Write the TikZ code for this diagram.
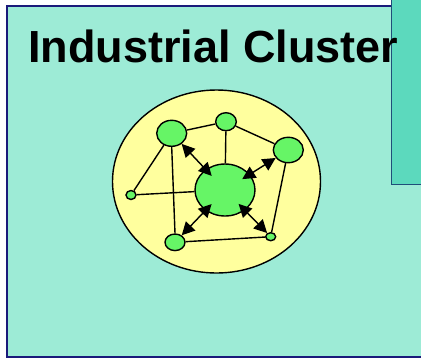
\documentclass[tikz,border=0pt]{standalone}
\usepackage{fontspec}
\setmainfont{Liberation Sans}
\usetikzlibrary{shapes.geometric,arrows.meta}
\definecolor{clusterbg}{HTML}{9DEBD6}
\definecolor{sidebox}{HTML}{5CD9BD}
\definecolor{sideline}{HTML}{1F4E79}
\definecolor{navyline}{HTML}{1A1A7A}
\definecolor{regionfill}{HTML}{FFFF9E}
\definecolor{firmgreen}{HTML}{66F566}

\begin{document}
\begin{tikzpicture}[x=1pt,y=-1pt,
  firm/.style={ellipse,draw=black,fill=firmgreen,line width=1.4pt,inner sep=0pt},
  link/.style={line width=1.4pt},
  flow/.style={line width=1.4pt,shorten <=-9pt,{Triangle[length=13pt,width=13pt]}-{Triangle[length=13pt,width=13pt]}}]
\useasboundingbox (0,0) rectangle (421,360);
\fill[white] (0,0) rectangle (421,360);
\filldraw[fill=clusterbg,draw=navyline,line width=1.8pt] (7,6) rectangle (440,357);
\filldraw[fill=sidebox,draw=sideline,line width=1pt] (391,-5) rectangle (440,184);

% the cluster region
\node[ellipse,draw=black,fill=regionfill,line width=1.4pt,minimum width=208pt,minimum height=183pt] (region) at (216.5,181.5) {};

% firms
\node[firm,minimum width=30pt,minimum height=26pt] (a) at (171.7,133.3) {};
\node[firm,minimum width=20.6pt,minimum height=18pt] (b) at (226,121.7) {};
\node[firm,minimum width=30pt,minimum height=25.4pt] (c) at (288.3,150) {};
\node[firm,minimum width=10pt,minimum height=9pt] (d) at (131,195) {};
\node[firm,minimum width=60pt,minimum height=52pt] (e) at (225,190) {};
\node[firm,minimum width=20pt,minimum height=16.6pt] (f) at (175,242.3) {};
\node[firm,minimum width=10pt,minimum height=8pt] (g) at (270.7,236.7) {};

% plain links
\draw[link] (a) -- (b);
\draw[link] (b) -- (c);
\draw[link] (b) -- (e);
\draw[link] (a) -- (d);
\draw[link] (d) -- (e);
\draw[link] (a.south) -- (f.north);
\draw[link] (f) -- (g);
\draw[link] (c) -- (g);

% two-way flows
\draw[flow] (e) -- (a);
\draw[flow] (e) -- (c);
\draw[flow] (e) -- (f);
\draw[flow] (e) -- (g);

\node[anchor=base west,font=\bfseries\fontsize{45}{54}\selectfont,inner sep=0pt] (title) at (28,62) {Industrial Cluster};
\end{tikzpicture}
\end{document}
